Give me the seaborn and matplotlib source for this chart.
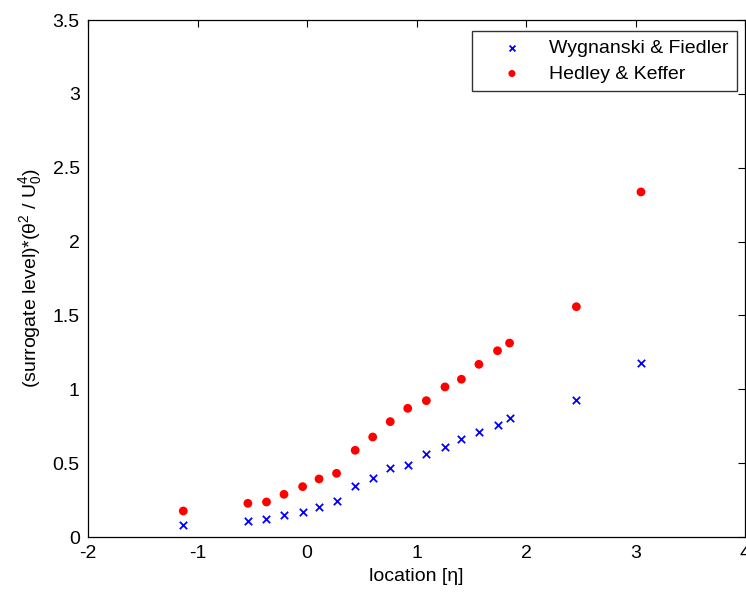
import numpy as np
import pandas as pd
import seaborn as sns
import matplotlib
matplotlib.use("Agg")
import matplotlib.pyplot as plt

# ---- data ----
location = [-1.13, -0.54, -0.37, -0.21, -0.04, 0.11, 0.27, 0.44, 0.60, 0.76,
            0.92, 1.09, 1.26, 1.41, 1.57, 1.74, 1.85, 2.46, 3.05]
wygnanski = [0.081, 0.108, 0.120, 0.149, 0.169, 0.203, 0.242, 0.345, 0.397, 0.467,
             0.487, 0.560, 0.611, 0.661, 0.713, 0.756, 0.806, 0.928, 1.176]
hedley = [0.176, 0.228, 0.237, 0.289, 0.341, 0.393, 0.431, 0.587, 0.677, 0.781,
          0.871, 0.923, 1.016, 1.068, 1.169, 1.261, 1.313, 1.559, 2.336]
series_names = ["Wygnanski & Fiedler", "Hedley & Keffer"]
x_ticks = [-2, -1, 0, 1, 2, 3, 4]
y_ticks = [0, 0.5, 1, 1.5, 2, 2.5, 3, 3.5]
y_tick_labels = ["0", "0.5", "1", "1.5", "2", "2.5", "3", "3.5"]

df = pd.DataFrame({
    "location": location * 2,
    "value": wygnanski + hedley,
    "source": [series_names[0]] * len(location) + [series_names[1]] * len(location),
})

sns.set_style("white")
plt.rcParams["font.family"] = ["Liberation Sans", "DejaVu Sans"]
plt.rcParams["mathtext.fontset"] = "custom"
plt.rcParams["mathtext.rm"] = "Liberation Sans"
plt.rcParams["mathtext.it"] = "Liberation Sans:italic"
plt.rcParams["mathtext.default"] = "regular"
plt.rcParams["text.color"] = "black"
plt.rcParams["axes.labelcolor"] = "black"

fig = plt.figure(figsize=(7.46, 5.94), dpi=100)
ax = fig.add_axes([88 / 746, (594 - 537) / 594, 657 / 746, 517 / 594])

sub_w = df[df["source"] == series_names[0]]
sub_h = df[df["source"] == series_names[1]]
sns.scatterplot(data=sub_w, x="location", y="value", color="#0000ff", marker="x",
                s=28, linewidth=1.3, label=series_names[0], ax=ax, zorder=3)
sns.scatterplot(data=sub_h, x="location", y="value", color="#ff0000", marker="o",
                s=40, edgecolor="none", label=series_names[1], ax=ax, zorder=3)

ax.set_xlim(-2, 4)
ax.set_ylim(0, 3.5)
ax.set_xticks(x_ticks)
ax.set_xticklabels([str(t) for t in x_ticks])
ax.set_yticks(y_ticks)
ax.set_yticklabels(y_tick_labels)
ax.tick_params(direction="in", length=5, width=0.8, top=True, right=True,
               labelsize=14, colors="black", pad=6)
for s in ax.spines.values():
    s.set_color("black")
    s.set_linewidth(0.9)

ax.set_xlabel("location [η]", fontsize=14, labelpad=4)
ax.set_ylabel(r"(surrogate level)*($\theta^2$ / $U_0^4$)", fontsize=14, labelpad=6)

leg = ax.legend(loc="upper right", bbox_to_anchor=(0.988, 0.979), borderaxespad=0,
                fontsize=14, frameon=True, fancybox=False, edgecolor="black",
                handlelength=3.2, handletextpad=0.3, borderpad=0.45,
                labelspacing=0.4, markerscale=0.8)
leg.get_frame().set_linewidth(1.0)

fig.savefig("out.png", dpi=100)
